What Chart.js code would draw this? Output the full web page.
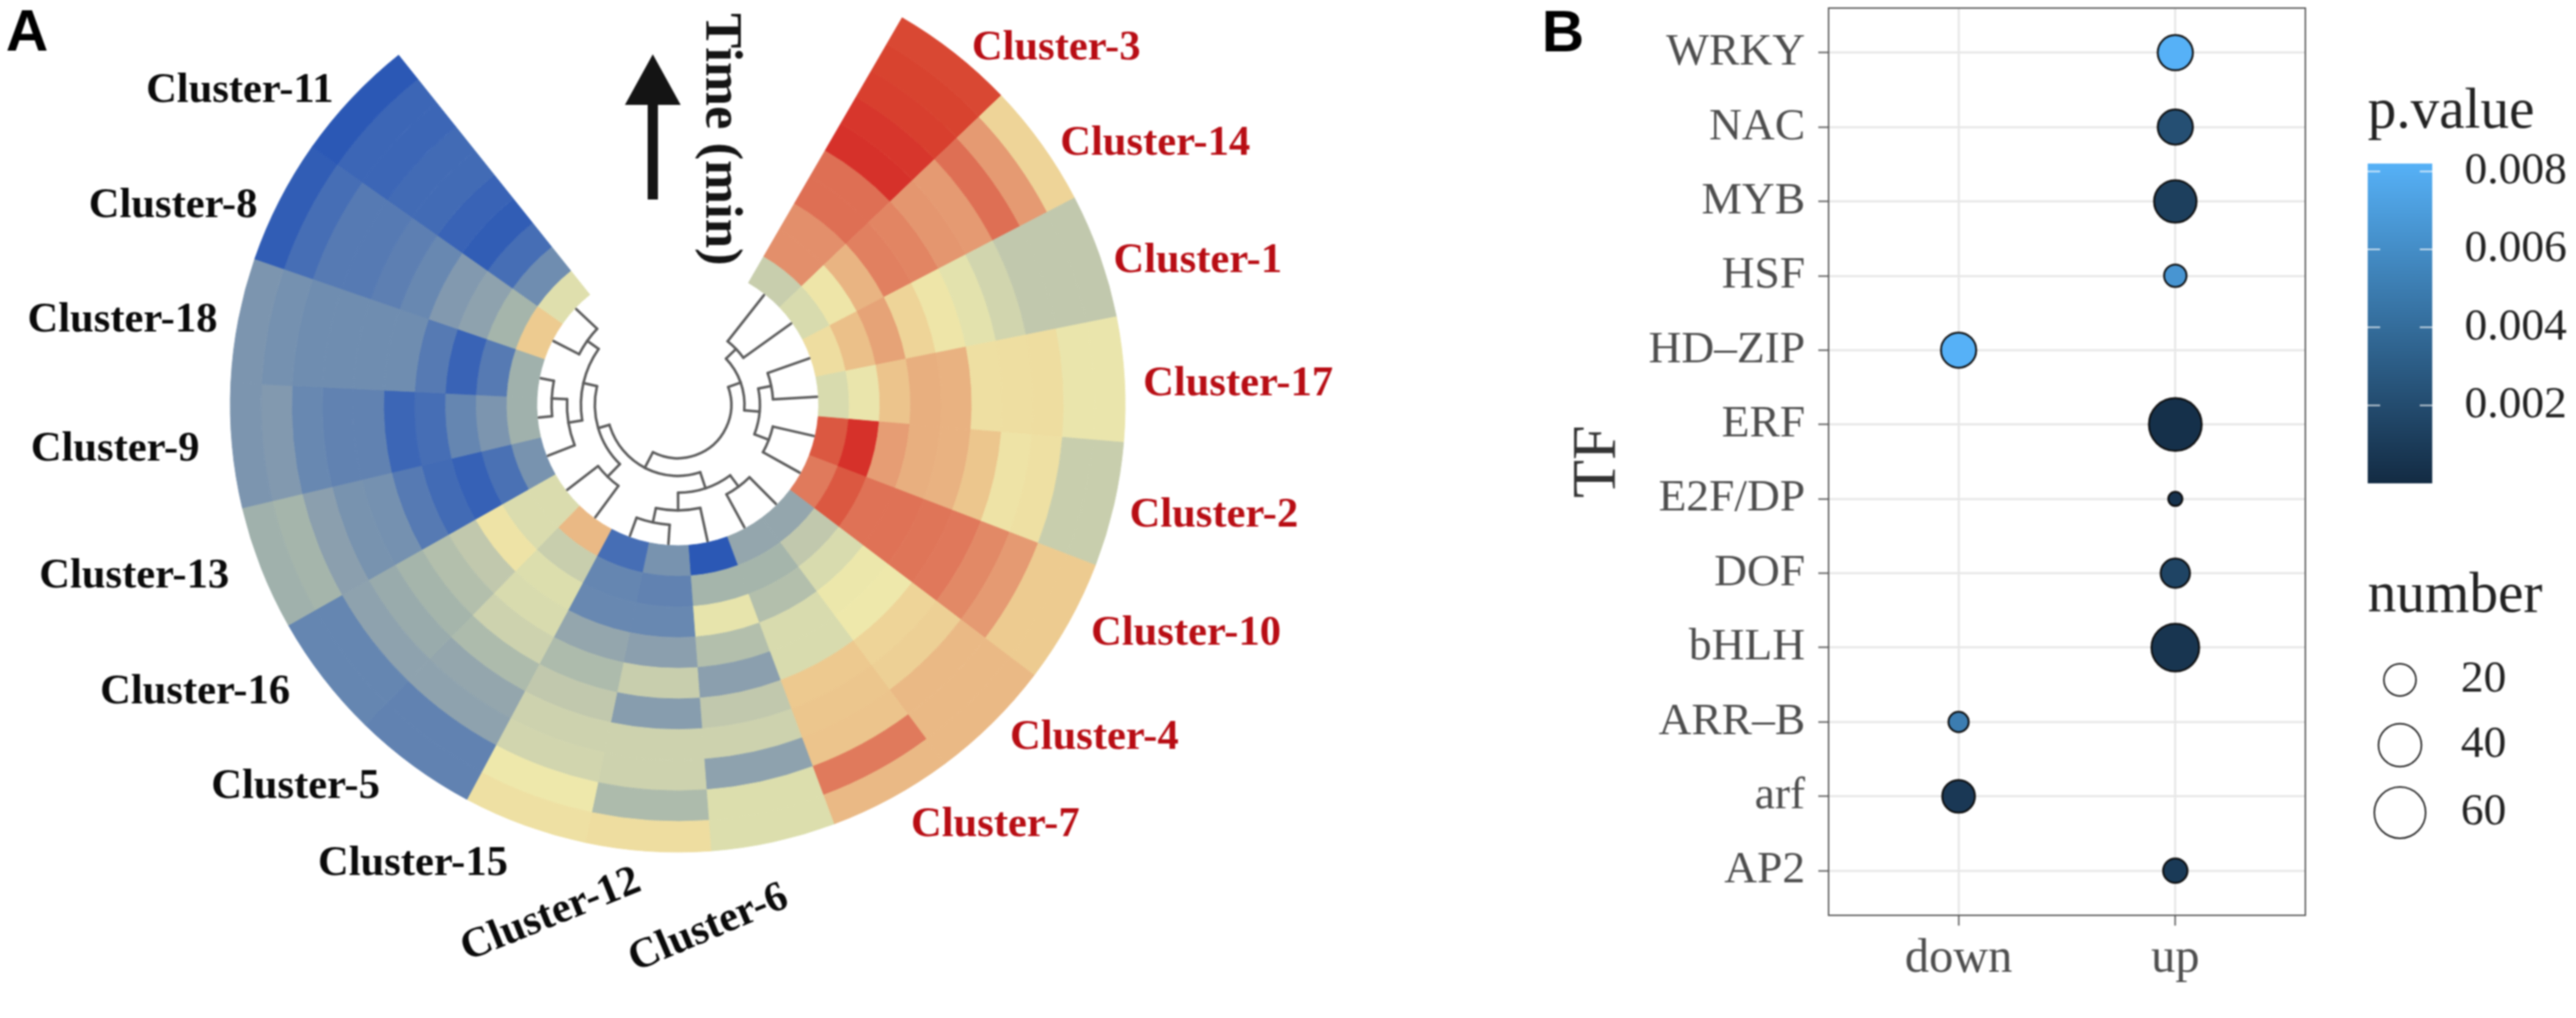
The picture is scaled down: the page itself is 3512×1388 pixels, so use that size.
<!DOCTYPE html>
<html>
<head>
<meta charset="utf-8">
<style>
html,body{margin:0;padding:0;background:#fff;width:3512px;height:1388px;overflow:hidden}
canvas{position:absolute;top:0;filter:blur(.8px)}
#a{left:0}
#b{left:2000px}
</style>
<script src="https://cdn.jsdelivr.net/npm/chart.js@4"></script>
</head>
<body>
<canvas id="a" width="1848" height="1388"></canvas>
<canvas id="b" width="1512" height="1388"></canvas>
<script>
// ---- Panel A data: sectors clockwise from the gap, rings outer -> inner
const clusterNames = ['Cluster-3','Cluster-14','Cluster-1','Cluster-17','Cluster-2','Cluster-10','Cluster-4','Cluster-7','Cluster-6','Cluster-12','Cluster-15','Cluster-5','Cluster-16','Cluster-13','Cluster-9','Cluster-18','Cluster-8','Cluster-11'];
const cluster3  = [.88,.9,.92,.97,1,.72,.72,.55,.55,-.12];
const cluster14 = [.2,.5,.72,.5,.52,.6,.62,.35,.08,-.05];
const cluster1  = [-.15,-.15,-.15,-.08,0,.08,.2,.45,.3,.15];
const cluster17 = [.03,.03,.15,.14,.13,.36,.38,.28,.03,-.05];
const cluster2  = [-.12,-.12,.12,.1,.27,.36,.38,.48,1,.82];
const cluster10 = [.25,.25,.5,.58,.66,.68,.7,.7,.82,.65];
const cluster4  = [.33,.33,.33,.22,.2,.05,.04,-.05,-.15,-.35];
const cluster7  = [.33,.65,.28,.27,.26,-.05,-.05,-.2,-.25,-.35];
const cluster6  = [-.03,-.03,-.38,-.1,-.15,-.4,-.2,.02,-.25,-1];
const cluster12 = [.15,-.22,-.1,-.1,-.42,-.12,-.4,-.6,-.65,-.5];
const cluster15 = [.12,.05,-.08,-.1,-.15,-.22,-.35,-.6,-.62,-.8];
const cluster5  = [-.65,-.65,-.38,-.35,-.22,-.1,-.05,-.03,-.12,.33];
const cluster16 = [-.62,-.62,-.38,-.32,-.25,-.2,-.15,.1,-.04,-.04];
const cluster13 = [-.28,-.25,-.4,-.5,-.52,-.72,-.82,-.9,-.78,-.5];
const cluster9  = [-.48,-.45,-.6,-.65,-.65,-.85,-.8,-.62,-.48,-.28];
const cluster18 = [-.48,-.52,-.55,-.55,-.55,-.55,-.72,-.88,-.72,-.28];
const cluster8  = [-.95,-.8,-.72,-.72,-.68,-.6,-.45,-.38,-.25,.25];
const cluster11 = [-1,-.85,-.85,-.82,-.82,-.88,-.95,-.8,-.55,-.02];
const clusterRows = [cluster3,cluster14,cluster1,cluster17,cluster2,cluster10,cluster4,cluster7,cluster6,cluster12,cluster15,cluster5,cluster16,cluster13,cluster9,cluster18,cluster8,cluster11];
const upClusters = ['Cluster-3','Cluster-14','Cluster-1','Cluster-17','Cluster-2','Cluster-10','Cluster-4','Cluster-7'];
// dendrogram merges: [childA, childB, height]; 0-17 = sectors, 18+ = earlier merges
const merges = [[0,1,110],[2,3,130],[4,5,133],[19,20,112],[18,21,91],[6,7,139],[9,10,164],[8,24,144],[23,25,120],[11,12,137],[14,15,172],[13,28,151],[16,17,151],[29,30,132],[27,31,113],[26,32,97],[22,33,73]];
const heatValues = [-1,-.85,-.7,-.55,-.4,-.25,-.15,-.05,.05,.15,.25,.35,.5,.65,.75,.9,1];
const heatColors = ['#2b58b5','#3c66b6','#5a7db2','#6f8db0','#8b9fae','#a5b5ab','#c1c8ad','#d8dbae','#eee8ab','#eeddA0','#edcb90','#e9b482','#e59a72','#e07a5c','#dd6a50','#d8432f','#d6312a'];

// ---- Panel B data
const tfNames = ['WRKY','NAC','MYB','HSF','HD–ZIP','ERF','E2F/DP','DOF','bHLH','ARR–B','arf','AP2'];
const tfDirection = ['up','up','up','up','down','up','up','up','up','down','down','up'];
const tfNumber = [25,25,39,8,25,64,2,16,51,6,21,10];
const tfPValue = [.0082,.0022,.0012,.0065,.0082,.0003,.0005,.0015,.0006,.005,.0008,.0009];
const directions = ['down','up'];
const pValueTicks = [.008,.006,.004,.002];
const numberTicks = [20,40,60];

// ---- helpers
function hexRgb(h){return [1,3,5].map(i=>parseInt(h.substr(i,2),16));}
function ramp(values,colors,v){
  if(v<=values[0])return colors[0];
  for(let i=1;i<values.length;i++){
    if(v<=values[i]){
      const t=(v-values[i-1])/(values[i]-values[i-1]),a=hexRgb(colors[i-1]),b=hexRgb(colors[i]);
      return 'rgb('+a.map((c,k)=>Math.round(c+(b[k]-c)*t)).join(',')+')';
    }
  }
  return colors[colors.length-1];
}
const heatColor=v=>ramp(heatValues,heatColors,v);
const pMax=.0082;
const pColor=p=>ramp([0,pMax],['#132B43','#56B1F7'],p);
const bubbleRadius=n=>(8*Math.sqrt(n)+8)/2;

// ---- Panel A
const ringCount=cluster3.length;
const heatDatasets=[];
for(let ring=0;ring<ringCount;ring++){
  const colors=clusterRows.map(r=>heatColor(r[ring]));
  heatDatasets.push({label:'ring '+(ring+1),data:clusterNames.map(()=>1),backgroundColor:colors,borderColor:colors,borderWidth:1,clip:false});
}
const serif='"Liberation Serif"';
const labelSpots={ // centre of each sector label, label angle
 'Cluster-11':[327,124,0],'Cluster-8':[236,281,0],'Cluster-18':[167,437,0],'Cluster-9':[157,613,0],'Cluster-13':[183,786,0],'Cluster-16':[266,944,0],'Cluster-5':[403,1073,0],'Cluster-15':[563,1178,0],'Cluster-12':[751,1248,-22],'Cluster-6':[966,1266,-23],
 'Cluster-3':[1440,66,0],'Cluster-14':[1575,196,0],'Cluster-1':[1633,356,0],'Cluster-17':[1688,524,0],'Cluster-2':[1655,703,0],'Cluster-10':[1617,864,0],'Cluster-4':[1492,1006,0],'Cluster-7':[1357,1125,0]};
const annotate={id:'annotate',afterDraw(c){
  const x=c.ctx,arc=c.getDatasetMeta(0).data[0];
  const step=(arc.endAngle-arc.startAngle),start=arc.startAngle,cx=arc.x,cy=arc.y,inner=c.getDatasetMeta(9).data[0].innerRadius;
  // dendrogram
  const ang=i=>start+step*(i+.5);
  const nodes=[];for(let i=0;i<clusterNames.length;i++)nodes.push({a:ang(i),r:inner-2});
  x.save();x.strokeStyle='#5c5c5c';x.lineWidth=3.5;x.lineCap='round';
  merges.forEach(m=>{
    const p=nodes[m[0]],q=nodes[m[1]],r=m[2];
    x.beginPath();x.arc(cx,cy,r,Math.min(p.a,q.a),Math.max(p.a,q.a));x.stroke();
    [p,q].forEach(n=>{x.beginPath();x.moveTo(cx+r*Math.cos(n.a),cy+r*Math.sin(n.a));x.lineTo(cx+n.r*Math.cos(n.a),cy+n.r*Math.sin(n.a));x.stroke();});
    nodes.push({a:(p.a+q.a)/2,r:r});
  });
  x.restore();
  // sector labels
  clusterNames.forEach(n=>{
    const s=labelSpots[n];x.save();x.translate(s[0],s[1]);x.rotate(s[2]*Math.PI/180);
    x.font='bold 58px '+serif;x.textAlign='center';x.textBaseline='middle';
    x.fillStyle=upClusters.includes(n)?'#b80d14':'#0a0a0a';x.fillText(n,0,0);x.restore();
  });
  // time arrow
  x.save();x.fillStyle='#141414';
  x.beginPath();x.moveTo(890,74);x.lineTo(928,143);x.lineTo(897,143);x.lineTo(897,272);x.lineTo(883,272);x.lineTo(883,143);x.lineTo(852,143);x.closePath();x.fill();
  x.translate(982,190);x.rotate(Math.PI/2);x.font='bold 72px '+serif;x.textAlign='center';x.textBaseline='middle';x.fillText('Time (min)',0,0);x.restore();
  // panel letter
  x.save();x.font='bold 80px "Liberation Sans"';x.fillStyle='#000';x.textBaseline='middle';x.textAlign='center';x.fillText('A',37,47);x.restore();
}};
new Chart(document.getElementById('a'),{
  type:'doughnut',
  data:{labels:clusterNames,datasets:heatDatasets},
  options:{responsive:false,animation:false,devicePixelRatio:1,rotation:30.1,circumference:291.3,radius:610,cutout:'31.5%',
    layout:{padding:{bottom:202}},plugins:{legend:{display:false},tooltip:{enabled:false}}},
  plugins:[annotate]
});

// ---- Panel B
const rows=tfNames.length;
const bubblePoints=tfNames.map((n,i)=>({x:directions.indexOf(tfDirection[i]),y:rows-1-i,r:bubbleRadius(tfNumber[i])}));
const gray='#4d4d4d';
const pinArea={id:'pinArea',afterLayout(c){
  const L=493,R=1143,T=11,B=1248,a=c.chartArea,xs=c.scales.x,ys=c.scales.y;
  a.left=L;a.right=R;a.top=T;a.bottom=B;a.width=R-L;a.height=B-T;
  ys.left=0;ys.right=L;ys.width=L;ys.top=T;ys.bottom=B;ys.height=B-T;ys.configure();
  xs.left=L;xs.right=R;xs.width=R-L;xs.top=B;xs.bottom=1388;xs.height=1388-B;xs.configure();
}};
const extras={id:'extras',afterDraw(c){
  const x=c.ctx,a=c.chartArea,off=-2000;
  x.save();x.strokeStyle='#5a5a5a';x.lineWidth=2;x.strokeRect(a.left,a.top,a.right-a.left,a.bottom-a.top);
  // panel letter
  x.font='bold 80px "Liberation Sans"';x.fillStyle='#000';x.textAlign='center';x.textBaseline='middle';x.fillText('B',2131+off,48);
  // colour bar
  const barL=3228+off,barW=88,barT=223,barB=659,perUnit=(barB-barT)/pMax;
  const g=x.createLinearGradient(0,barB,0,barT);g.addColorStop(0,pColor(0));g.addColorStop(1,pColor(pMax));
  x.fillStyle=g;x.fillRect(barL,barT,barW,barB-barT);
  x.fillStyle='#222';x.textAlign='left';x.font='78px '+serif;x.fillText('p.value',barL,154);
  x.font='62px '+serif;
  pValueTicks.forEach(p=>{
    const y=barB-p*perUnit;
    x.strokeStyle='rgba(255,255,255,.75)';x.lineWidth=2;
    x.beginPath();x.moveTo(barL,y);x.lineTo(barL+17,y);x.moveTo(barL+barW-17,y);x.lineTo(barL+barW,y);x.stroke();
    x.fillText(p.toFixed(3),3360+off,y);
  });
  // size legend
  x.font='78px '+serif;x.fillText('number',barL,814);
  x.font='62px '+serif;
  const rowY=[927,1016,1108];
  numberTicks.forEach((n,i)=>{
    x.beginPath();x.arc(3272+off,rowY[i],bubbleRadius(n),0,Math.PI*2);x.fillStyle='#fff';x.fill();x.strokeStyle='#111';x.lineWidth=2;x.stroke();
    x.fillStyle='#222';x.fillText(String(n),3355+off,rowY[i]);
  });
  x.restore();
}};
new Chart(document.getElementById('b'),{
  type:'bubble',
  data:{datasets:[{label:'TF',data:bubblePoints,backgroundColor:tfPValue.map(pColor),borderColor:'#0c0c0c',borderWidth:2.5}]},
  options:{responsive:false,animation:false,devicePixelRatio:1,
    plugins:{legend:{display:false},tooltip:{enabled:false}},
    scales:{
      x:{type:'linear',min:-.6,max:1.6,
        afterBuildTicks(s){s.ticks=directions.map((d,i)=>({value:i}));},
        grid:{color:'#e8e8e8',lineWidth:3,tickColor:'#5a5a5a',tickWidth:2,tickLength:14},
        border:{display:false},
        ticks:{autoSkip:false,maxRotation:0,padding:6,color:gray,font:{family:serif,size:66},callback:v=>directions[v]}},
      y:{type:'linear',min:-.6,max:rows-.4,
        afterBuildTicks(s){s.ticks=tfNames.map((d,i)=>({value:i}));},
        grid:{color:'#e8e8e8',lineWidth:3,tickColor:'#5a5a5a',tickWidth:2,tickLength:14},
        border:{display:false},
        title:{display:true,text:'TF',color:'#333',font:{family:serif,size:85},padding:{top:129,bottom:0}},
        ticks:{autoSkip:false,padding:18,color:gray,font:{family:serif,size:62},callback:v=>tfNames[rows-1-v]}}
    }}
  ,plugins:[pinArea,extras]
});
</script>
</body>
</html>
